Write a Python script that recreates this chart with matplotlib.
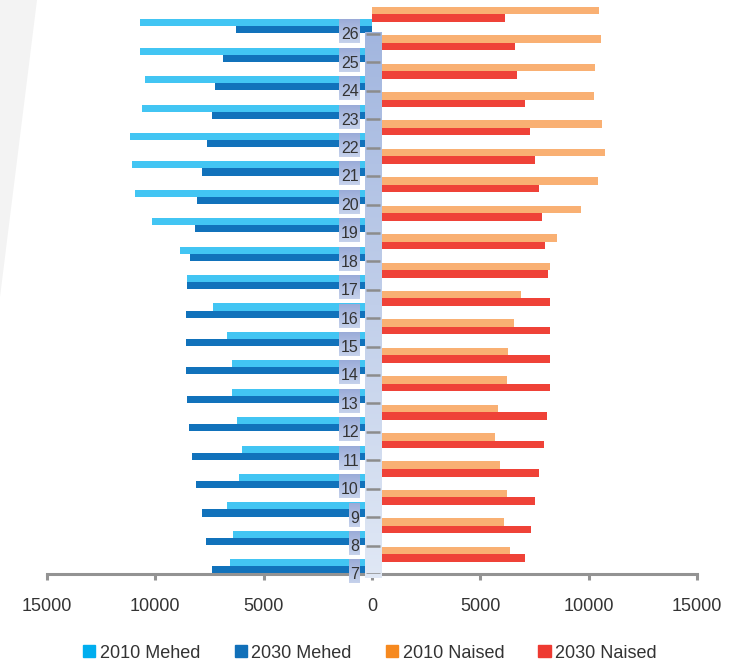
import numpy as np
import matplotlib
matplotlib.use("Agg")
import matplotlib.pyplot as plt
from matplotlib.patches import Patch, Polygon
from matplotlib.colors import to_rgb

plt.rcParams['font.family'] = ['Liberation Sans', 'DejaVu Sans']

# ---- data ----
ages = list(range(7, 27))
men_2010 = [6540, 6420, 6680, 6160, 6020, 6220, 6480, 6480, 6680, 7340,
            8520, 8850, 10160, 10960, 11080, 11150, 10620, 10490, 10690, 10690]
men_2030 = [7400, 7670, 7860, 8130, 8330, 8450, 8520, 8590, 8590, 8590,
            8520, 8390, 8190, 8060, 7860, 7600, 7390, 7260, 6860, 6280]
women_2010 = [6350, 6090, 6230, 5890, 5690, 5830, 6230, 6290, 6540, 6870,
              8200, 8520, 9640, 10430, 10750, 10630, 10230, 10300, 10570, 10500]
women_2030 = [7070, 7350, 7540, 7730, 7930, 8060, 8200, 8200, 8200, 8200,
              8140, 8000, 7860, 7730, 7540, 7270, 7070, 6670, 6610, 6150]
xticks = [-15000, -10000, -5000, 0, 5000, 10000, 15000]
series_labels = ['2010 Mehed', '2030 Mehed', '2010 Naised', '2030 Naised']

W, H = 754, 663
fig = plt.figure(figsize=(W / 100, H / 100), dpi=100)

# light grey background wedge at top-left
fig.patches.append(Polygon([(0, 1), (37 / W, 1), (0, 1 - 297 / H)], closed=True,
                           transform=fig.transFigure, facecolor='#f3f3f3',
                           edgecolor='none', zorder=0))

ax = fig.add_axes([47 / W, (H - 574) / H, 650 / W, 568.4 / H])
ax.patch.set_alpha(0)

y = np.arange(len(ages))
c_lb, c_db, c_or, c_rd = '#42c5f3', '#1172bb', '#f9b073', '#ef4238'

ax.barh(y + 0.27, -np.array(men_2010), height=0.25, align='edge', color=c_lb, zorder=2)
ax.barh(y + 0.02, -np.array(men_2030), height=0.25, align='edge', color=c_db, zorder=2)
ax.barh(y + 0.695, women_2010, height=0.265, align='edge', color=c_or, zorder=2)
ax.barh(y + 0.43, women_2030, height=0.265, align='edge', color=c_rd, zorder=2)

# central gradient strip
top, bot = np.array(to_rgb('#a2b6df')), np.array(to_rgb('#e0e8f5'))
t = np.linspace(0, 1, 256)[:, None, None]
grad = top * (1 - t) + bot * t
im = ax.imshow(grad, extent=[-310, 430, -0.15, 19.03], aspect='auto',
               origin='upper', zorder=3)
im.set_clip_on(False)
ax.hlines(y, -290, 350, color='#8c8c8c', lw=1.8, zorder=4)

# age labels with gradient boxes
btop, bbot = np.array(to_rgb('#9aabd8')), np.array(to_rgb('#c6d2ec'))
bgrad = btop * (1 - t) + bbot * t
for i, a in enumerate(ages):
    s = str(a)
    wdata = 10.5 * len(s) / 21.67 * 1000
    bim = ax.imshow(bgrad, extent=[-572 - wdata, -572, i - 0.33, i + 0.49],
                    aspect='auto', origin='upper', zorder=4)
    bim.set_clip_on(False)
    tx = ax.text(-600, i - 0.03, s, ha='right', va='center', fontsize=11.5,
                 color='#333333', zorder=5)
    tx.set_clip_on(False)

ax.set_xlim(-15000, 15000)
ax.set_ylim(0, 20)
ax.set_xticks(xticks)
ax.set_xticklabels([str(abs(v)) for v in xticks])
ax.set_yticks([])
for s in ['left', 'right', 'top']:
    ax.spines[s].set_visible(False)
ax.spines['bottom'].set_color('#939393')
ax.spines['bottom'].set_linewidth(2.2)
ax.tick_params(axis='x', direction='out', length=4.5, width=2.2, color='#939393',
               labelsize=13, labelcolor='#333333', pad=13)

handles = [Patch(color=c) for c in ['#00aeef', '#1170b9', '#f6891f', '#ee3a32']]
fig.legend(handles, series_labels, loc='center', bbox_to_anchor=(370 / W, 1 - 653 / H),
           ncol=4, frameon=False, fontsize=13, handlelength=0.67, handleheight=0.67,
           handletextpad=0.25, columnspacing=1.9, labelcolor='#333333')

fig.savefig('out.png', dpi=100)
